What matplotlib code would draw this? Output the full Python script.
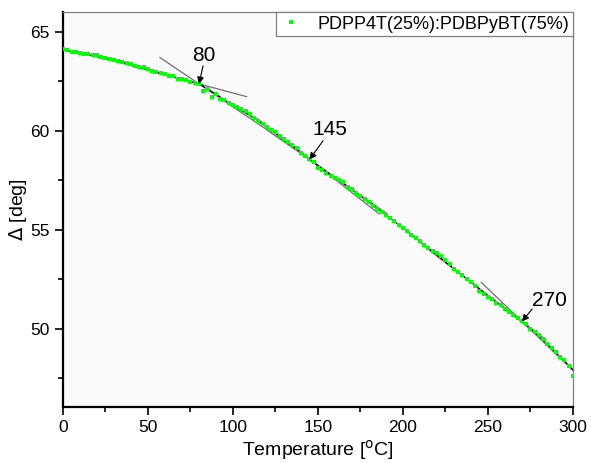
import numpy as np
import matplotlib.pyplot as plt
from matplotlib.ticker import MultipleLocator

plt.rcParams['font.family'] = ['Liberation Sans', 'DejaVu Sans']

# mesures (température en °C, Delta en degrés)
temp = np.arange(0, 300.1, 2.5)
delta = [64.12, 64.08, 64.00, 63.97, 63.92, 63.88, 63.86, 63.84, 63.82, 63.72,
         63.66, 63.63, 63.57, 63.52, 63.46, 63.41, 63.37, 63.28, 63.23, 63.20,
         63.10, 63.04, 62.97, 62.92, 62.86, 62.78, 62.75, 62.64, 62.61, 62.55,
         62.48, 62.42, 62.36, 62.00, 62.12, 61.72, 61.86, 61.62, 61.55, 61.42,
         61.30, 61.20, 61.12, 60.98, 60.84, 60.66, 60.52, 60.35, 60.20, 60.02,
         59.92, 59.75, 59.58, 59.45, 59.30, 59.13, 58.90, 58.72, 58.56, 58.42,
         58.14, 58.00, 57.86, 57.74, 57.64, 57.50, 57.40, 57.18, 57.05, 56.86,
         56.72, 56.56, 56.40, 56.20, 56.05, 55.90, 55.73, 55.58, 55.43, 55.25,
         55.09, 54.92, 54.76, 54.58, 54.43, 54.25, 54.08, 53.94, 53.84, 53.68,
         53.48, 53.25, 53.02, 52.86, 52.70, 52.50, 52.35, 52.16, 51.90, 51.78,
         51.62, 51.48, 51.32, 51.18, 51.00, 50.86, 50.70, 50.52, 50.38, 50.22,
         50.00, 49.86, 49.68, 49.50, 49.24, 49.04, 48.82, 48.58, 48.42, 48.12,
         47.62]

# courbe lissée
fit_t = np.arange(0, 301, 10)
fit_d = [64.10, 63.93, 63.75, 63.56, 63.36, 63.09, 62.84, 62.60, 62.37, 61.85,
         61.28, 60.77, 60.18, 59.58, 58.92, 58.24, 57.63, 57.02, 56.38, 55.74,
         55.09, 54.41, 53.72, 53.03, 52.35, 51.67, 51.02, 50.37, 49.63, 48.80,
         47.93]

# tangentes : point de contact, pente, début, fin
tan_x0 = [80, 80, 145, 145, 270, 270]
tan_y0 = [62.37, 62.37, 58.55, 58.55, 50.37, 50.37]
tan_slope = [-0.023, -0.058, -0.060, -0.067, -0.066, -0.0825]
tan_start = [20, 57, 120, 114, 215, 246]
tan_end = [108, 140, 190, 186, 284, 301]

# transitions annotées : point, départ de la flèche, position du texte
trans_t = [80, 145, 270]
trans_d = [62.37, 58.55, 50.37]
tail_t = [82.4, 153, 276]
tail_d = [63.28, 59.5, 51.0]
trans_lbl = ['80', '145', '270']
lbl_t = [83, 157, 286]
lbl_d = [63.3, 59.6, 50.95]

fig = plt.figure(figsize=(5.91, 4.63), dpi=100)
ax = fig.add_axes([0.1066, 0.121, 0.8629, 0.853])
ax.set_facecolor('#fafafa')

for x0, y0, s, a, b in zip(tan_x0, tan_y0, tan_slope, tan_start, tan_end):
    xs = np.array([a, b])
    ax.plot(xs, y0 + s*(xs - x0), color='#707070', lw=0.9, zorder=2)

ax.plot(fit_t, fit_d, color='black', lw=0.9, zorder=3)
ax.plot(temp, delta, 's', color='#00ff00', markersize=2.6, markeredgewidth=0,
        zorder=4, label='PDPP4T(25%):PDBPyBT(75%)')

for t, d, t0, d0 in zip(trans_t, trans_d, tail_t, tail_d):
    ax.annotate('', xy=(t, d), xytext=(t0, d0),
                arrowprops=dict(arrowstyle='-|>', color='black', lw=0.8,
                                shrinkA=0, shrinkB=0, mutation_scale=10), zorder=5)
for t, d, lbl in zip(lbl_t, lbl_d, trans_lbl):
    ax.text(t, d, lbl, ha='center', va='bottom', fontsize=15)

ax.set_xlim(0, 300)
ax.set_ylim(46.05, 66.0)
ax.xaxis.set_major_locator(MultipleLocator(50))
ax.xaxis.set_minor_locator(MultipleLocator(25))
ax.yaxis.set_major_locator(MultipleLocator(5))
ax.yaxis.set_minor_locator(MultipleLocator(2.5))
ax.tick_params(which='both', direction='out', top=False, right=False, width=1.2, labelsize=12.5)
ax.tick_params(which='major', length=6)
ax.tick_params(which='minor', length=3.5)

for s in ['left', 'bottom']:
    ax.spines[s].set_linewidth(1.6)
for s in ['top', 'right']:
    ax.spines[s].set_linewidth(0.9)
    ax.spines[s].set_color('#808080')

ax.set_xlabel(r'Temperature [$^{\mathrm{o}}$C]', fontsize=14, labelpad=2)
ax.set_ylabel(r'$\Delta$ [deg]', fontsize=14, labelpad=1)

leg = ax.legend(loc='upper right', borderaxespad=0, fancybox=False, fontsize=13,
                markerscale=1.0, handlelength=1.3, framealpha=1, borderpad=0.2)
leg.get_frame().set_edgecolor('#808080')
leg.get_frame().set_linewidth(0.9)

plt.savefig('out.png', dpi=100)
